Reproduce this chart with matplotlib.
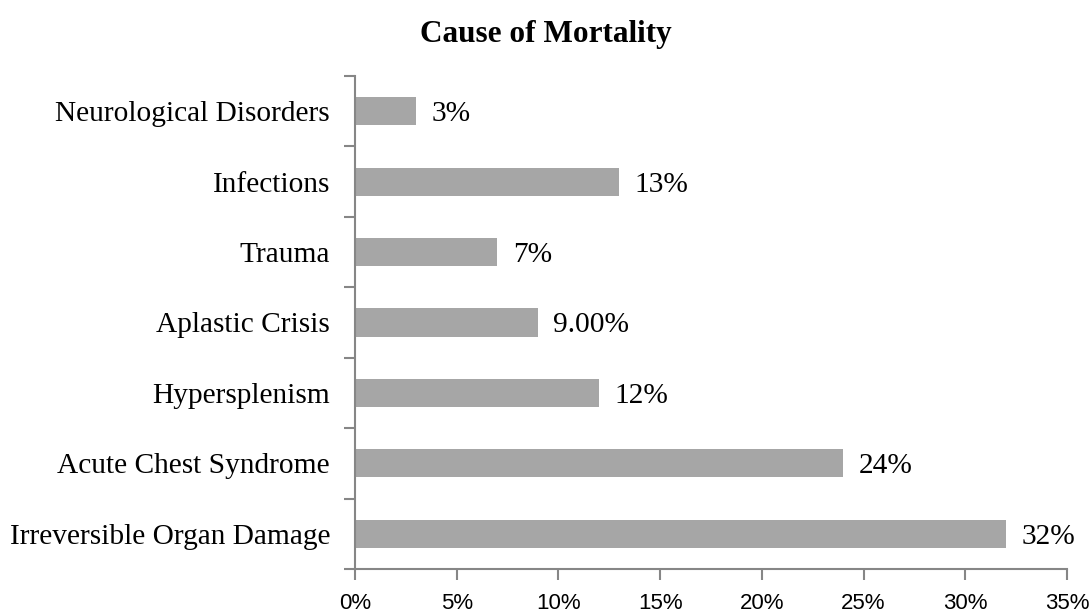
import numpy as np
from matplotlib import pyplot as plt

causes = ["Irreversible Organ Damage", "Acute Chest Syndrome", "Hypersplenism",
          "Aplastic Crisis", "Trauma", "Infections", "Neurological Disorders"]
values = [32, 24, 12, 9, 7, 13, 3]
value_labels = ["32%", "24%", "12%", "9.00%", "7%", "13%", "3%"]
x_ticks = [0, 5, 10, 15, 20, 25, 30, 35]
x_tick_labels = ["0%", "5%", "10%", "15%", "20%", "25%", "30%", "35%"]

serif = "Liberation Serif"
spine_col = "#868686"

fig = plt.figure(figsize=(10.91, 6.13), dpi=100)
ax = fig.add_axes([0.3254, 0.0718, 0.6526, 0.8042])

y = np.arange(len(causes))
ax.barh(y, values, height=0.4, color="#A6A6A6")

for yi, v, lab in zip(y, values, value_labels):
    ax.text(v + 0.75, yi, lab, va="center_baseline", ha="left", fontsize=21.2,
            family=serif, color="black")

ax.set_xlim(0, 35)
ax.set_ylim(-0.5, len(causes) - 0.5)

ax.set_xticks(x_ticks)
ax.set_xticklabels(x_tick_labels, family="Liberation Sans", fontsize=16)
ax.tick_params(axis="x", direction="out", length=8, width=1.5,
               color=spine_col, pad=9)

ax.set_yticks(y)
ax.set_yticklabels(causes, family=serif, fontsize=21.2, va="center_baseline")
ax.tick_params(axis="y", which="major", length=0, pad=18)
ax.set_yticks(np.arange(-0.5, len(causes), 1.0), minor=True)
ax.tick_params(axis="y", which="minor", direction="out", length=8,
               width=1.5, color=spine_col)

for side in ["top", "right"]:
    ax.spines[side].set_visible(False)
for side in ["left", "bottom"]:
    ax.spines[side].set_color(spine_col)
    ax.spines[side].set_linewidth(1.5)

fig.text(0.5, 0.943, "Cause of Mortality", ha="center", va="center",
         fontsize=22.5, fontweight="bold", family=serif)

fig.savefig("out.png", dpi=100)
